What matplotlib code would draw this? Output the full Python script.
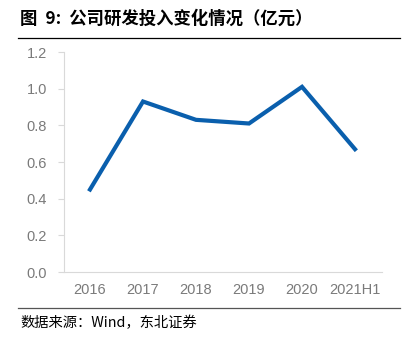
import matplotlib.pyplot as plt
from matplotlib.lines import Line2D

# data
years = ['2016', '2017', '2018', '2019', '2020', '2021H1']
rd_spend = [0.45, 0.93, 0.83, 0.81, 1.01, 0.67]
yticks = [0.0, 0.2, 0.4, 0.6, 0.8, 1.0, 1.2]

plt.rcParams['font.family'] = ['Noto Sans CJK SC', 'DejaVu Sans']

fig = plt.figure(figsize=(4.09, 3.38), dpi=100)
ax = fig.add_axes([63.5 / 409, 1 - 272 / 338, 318 / 409, 220 / 338])

x = range(len(years))
ax.plot(x, rd_spend, color='#0a5fad', linewidth=3, solid_joinstyle='miter')
ax.set_xlim(-0.5, len(years) - 0.5)
ax.set_ylim(0, 1.2)
ax.set_xticks(list(x))
ax.set_xticklabels(years, family='Liberation Sans', fontsize=10.5, color='#7a7a7a')
ax.set_yticks(yticks)
ax.set_yticklabels(['%.1f' % v for v in yticks], family='Liberation Sans',
                   fontsize=10.5, color='#7a7a7a')
ax.tick_params(axis='x', length=0, pad=8)
ax.tick_params(axis='y', length=4, color='#d9d9d9', pad=8)
for s in ['top', 'right']:
    ax.spines[s].set_visible(False)
ax.spines['left'].set_color('#d9d9d9')
ax.spines['bottom'].set_color('#d9d9d9')

# title and source
fig.text(20 / 409, 1 - 19 / 338, '图  9:  公司研发投入变化情况（亿元）', fontsize=12.5,
         fontweight='bold', va='center', ha='left')
fig.add_artist(Line2D([18 / 409, 400 / 409], [1 - 38 / 338, 1 - 38 / 338],
                      color='black', linewidth=0.9))
fig.add_artist(Line2D([18 / 409, 400 / 409], [1 - 308 / 338, 1 - 308 / 338],
                      color='#555555', linewidth=0.9))
fig.text(20 / 409, 1 - 323 / 338, '数据来源：Wind，东北证券', fontsize=10.3,
         va='center', ha='left')

plt.savefig('out.png', dpi=100)
